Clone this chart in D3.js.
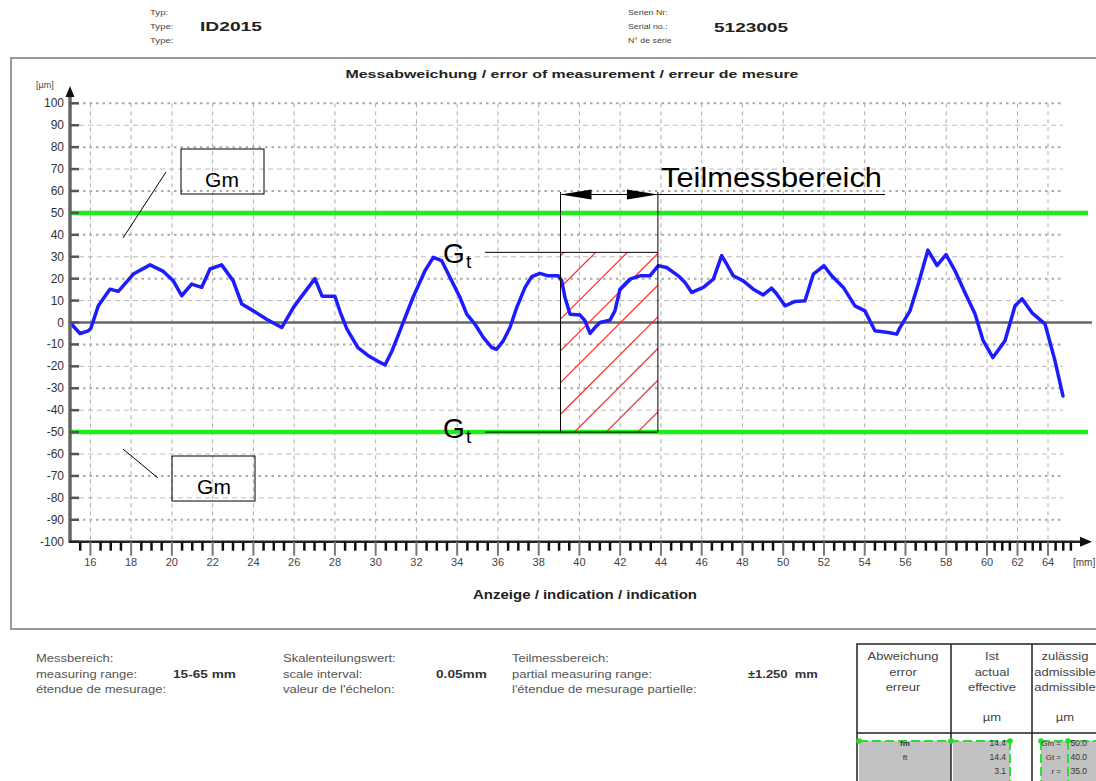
<!DOCTYPE html>
<html>
<head>
<meta charset="utf-8">
<script src="https://cdn.jsdelivr.net/npm/d3@7"></script>
<style>
body { margin: 0; background: #fff; }
svg { display: block; font-family: "Liberation Sans", Arial, sans-serif; }
</style>
</head>
<body>
<svg id="chart" width="1096" height="781"></svg>
<script>
const positionMm = [15.00, 15.49, 15.90, 16.02, 16.39, 16.96, 17.37, 18.11, 18.93, 19.58, 20.07, 20.48, 20.97, 21.46,
  21.87, 22.44, 23.01, 23.43, 24.00, 24.65, 25.39, 25.96, 26.29, 27.02, 27.37, 28.00, 28.25, 28.59, 29.13, 29.62,
  30.07, 30.46, 30.80, 31.19, 31.83, 32.42, 32.83, 33.24, 33.65, 34.14, 34.47, 34.87, 35.28, 35.69, 35.94, 36.26,
  36.59, 36.92, 37.33, 37.66, 38.06, 38.47, 38.96, 39.13, 39.29, 39.54, 40.03, 40.27, 40.52, 40.76, 41.01, 41.50,
  41.74, 41.99, 42.48, 42.97, 43.46, 43.87, 44.28, 44.85, 45.18, 45.51, 46.08, 46.57, 46.98, 47.22, 47.55, 48.04,
  48.53, 49.02, 49.43, 49.68, 50.09, 50.58, 51.07, 51.48, 52.00, 52.38, 52.95, 53.52, 54.01, 54.50, 55.16, 55.57,
  55.73, 56.22, 56.61, 57.10, 57.55, 57.99, 58.43, 58.92, 59.41, 59.80, 60.39, 61.18, 61.84, 62.30, 62.95, 63.80,
  64.46, 64.98];
const deviationUm = [0, -5, -3.8, -2.7, 7.6, 15.2, 14.2, 22.1, 26.3, 23.3, 19.0, 12.2, 17.5, 16.0,
  24.4, 26.3, 19, 8.4, 5.3, 1.5, -2.3, 6.8, 11, 20, 12, 12, 5, -3, -11.5, -15,
  -17.5, -19.4, -13, -3.8, 11.4, 23.6, 29.7, 28.2, 20.5, 11.4, 3.8, -0.7, -6.8, -11.4, -12.2, -8.4,
  -2.3, 6.8, 16, 20.9, 22.4, 21.3, 21.3, 19, 11.4, 3.8, 3.4, 0.8, -5, -2.3, 0, 1.1,
  5.3, 15.2, 19.8, 21.3, 21.3, 25.9, 25.1, 21.3, 18.3, 13.7, 16, 19.8, 30.5, 26.7, 21.3, 19,
  15.2, 12.6, 15.7, 13, 7.6, 9.6, 9.9, 22.1, 25.9, 21.3, 16, 7.6, 5.3, -3.8, -4.6, -5.3,
  -2.3, 5.3, 17, 33, 26, 31, 23.6, 13.6, 4, -8, -16, -8.3, 7.6, 10.8, 4.4, -0.6,
  -17.5, -33.5];

const gmLimit = 50;            // green limit lines +-Gm
const gtBand = [-50, 32];      // hatched partial range band as drawn
const partialRange = [39.07, 43.85];
const yTicks = d3.range(-100, 101, 10);
const xLabels = d3.range(16, 65, 2);
const xMinor = d3.range(15.5, 65.6, 0.5);

const tableActual = ['14.4', '14.4', '3.1'];
const tableNames = ['fm', 'ft'];
const tableAdmissible = [['Gm =', '50.0'], ['Gt =', '40.0'], ['r =', '35.0']];

const svg = d3.select('#chart');

// scan is squeezed at the right end, so the scale is piecewise
const x = d3.scaleLinear().domain([15, 60, 64]).range([70, 987, 1048]);
const y = d3.scaleLinear().domain([-100, 100]).range([541.7, 103.3]);

function label(g, px, py, str, o = {}) {
  const t = g.append('text')
    .attr('x', px).attr('y', py)
    .attr('font-size', o.size || 10)
    .attr('fill', o.fill || '#555')
    .attr('font-weight', o.bold ? 'bold' : null)
    .attr('text-anchor', o.anchor || 'start')
    .text(str);
  if (o.width || o.sx) {
    const w = o.width || t.node().getComputedTextLength() * o.sx;
    t.attr('textLength', w).attr('lengthAdjust', 'spacingAndGlyphs');
  }
  return t;
}

// header
const head = svg.append('g');
['Typ:', 'Type:', 'Type:'].forEach((s, i) => label(head, 150, 15 + i * 14, s, { size: 8, fill: '#444', sx: 1.2 }));
label(head, 200, 31, 'ID2015', { size: 13, bold: true, fill: '#222', width: 62 });
['Serien Nr:', 'Serial no.:', 'N° de série'].forEach((s, i) => label(head, 628, 15 + i * 14, s, { size: 8, fill: '#444', sx: 1.1 }));
label(head, 714, 32, '5123005', { size: 13, bold: true, fill: '#222', width: 74 });

// frame
svg.append('rect')
  .attr('x', 11).attr('y', 58).attr('width', 1100).attr('height', 571)
  .attr('fill', 'none').attr('stroke', '#999').attr('stroke-width', 2);

label(svg, 572, 78, 'Messabweichung / error of measurement / erreur de mesure',
  { size: 11, bold: true, fill: '#222', anchor: 'middle', width: 453 });

// grid
const grid = svg.append('g');
yTicks.filter(v => v > -100).forEach(v => {
  const dotted = v > 0 ? v % 20 === 0 : v % 20 !== 0;
  grid.append('line')
    .attr('x1', 70).attr('x2', 1063).attr('y1', y(v)).attr('y2', y(v))
    .attr('stroke', dotted ? '#aaa' : '#bbb')
    .attr('stroke-width', dotted ? 2 : 1)
    .attr('stroke-dasharray', dotted ? '2.5,4' : '5,4');
});
xLabels.forEach(v => {
  grid.append('line')
    .attr('x1', x(v)).attr('x2', x(v)).attr('y1', y(100)).attr('y2', y(-100))
    .attr('stroke', '#aaa').attr('stroke-width', 1).attr('stroke-dasharray', '4,4');
});

// zero line and Gm limits
svg.append('line')
  .attr('x1', 70).attr('x2', 1092).attr('y1', y(0)).attr('y2', y(0))
  .attr('stroke', '#666').attr('stroke-width', 2.5);
[gmLimit, -gmLimit].forEach(v => {
  svg.append('line')
    .attr('x1', 70).attr('x2', 1088).attr('y1', y(v)).attr('y2', y(v))
    .attr('stroke', '#1eee1e').attr('stroke-width', 4.5);
});

// hatched partial range
const bx0 = x(partialRange[0]);
const bx1 = x(partialRange[1]);
const byTop = y(gtBand[1]);
const byBot = y(gtBand[0]);
svg.append('clipPath').attr('id', 'hatchClip')
  .append('rect').attr('x', bx0).attr('y', byTop).attr('width', bx1 - bx0).attr('height', byBot - byTop);
const hatch = svg.append('g').attr('clip-path', 'url(#hatchClip)');
d3.range(byTop + 3.4, byBot + (bx1 - bx0) + 5, 31.7).forEach(c => {
  hatch.append('line')
    .attr('x1', bx0).attr('y1', c).attr('x2', bx0 + 300).attr('y2', c - 300)
    .style('stroke', '#ff2a2a').style('stroke-width', 1.2);
});

// measured curve
const line = d3.line().x(d => x(d[0])).y(d => y(d[1]));
svg.append('path')
  .datum(positionMm.map((p, i) => [p, deviationUm[i]]))
  .attr('d', line)
  .attr('fill', 'none').attr('stroke', '#1c1cff').attr('stroke-width', 3.5)
  .attr('stroke-linejoin', 'round').attr('stroke-linecap', 'round');

// annotation overlay
const ann = svg.append('g').attr('stroke', '#000').attr('stroke-width', 1).attr('fill', 'none');
ann.append('line').attr('x1', bx0).attr('x2', bx0).attr('y1', 192).attr('y2', byBot);
ann.append('line').attr('x1', bx1).attr('x2', bx1).attr('y1', 192).attr('y2', byBot);
ann.append('line').attr('x1', 485).attr('x2', bx1).attr('y1', byTop).attr('y2', byTop);
ann.append('line').attr('x1', 485).attr('x2', bx1).attr('y1', byBot).attr('y2', byBot);
ann.append('line').attr('x1', bx0).attr('x2', 885).attr('y1', 194.5).attr('y2', 194.5);
svg.append('path')
  .attr('d', `M${bx0},194.5 L${bx0 + 31},189.5 L${bx0 + 31},199.5 Z M${bx1},194.5 L${bx1 - 31},189.5 L${bx1 - 31},199.5 Z`)
  .attr('fill', '#000');
label(svg, 661, 187, 'Teilmessbereich', { size: 28, fill: '#000', width: 221 });
[[263, 268], [438, 443]].forEach(([gy, ty]) => {
  label(svg, 443, gy, 'G', { size: 28, fill: '#000' });
  label(svg, 466, ty, 't', { size: 19, fill: '#000' });
});
[[181, 149, 222, 187, [123, 238, 166, 172]], [172, 456, 214, 494, [123, 449, 158, 478]]].forEach(([bx, by, tx, ty, l]) => {
  ann.append('rect').attr('x', bx).attr('y', by).attr('width', 83).attr('height', 45);
  ann.append('line').attr('x1', l[0]).attr('y1', l[1]).attr('x2', l[2]).attr('y2', l[3]);
  label(svg, tx, ty, 'Gm', { size: 21, fill: '#000', anchor: 'middle' });
});

// y axis
const yAxis = svg.append('g');
yAxis.append('line').attr('x1', 70).attr('x2', 70).attr('y1', y(-100) + 1).attr('y2', 95)
  .attr('stroke', '#666').attr('stroke-width', 3.5);
yAxis.append('path').attr('d', 'M70,86 L65.5,97 L74.5,97 Z').attr('fill', '#111');
yTicks.forEach(v => {
  yAxis.append('line').attr('x1', 70).attr('x2', 79).attr('y1', y(v)).attr('y2', y(v))
    .attr('stroke', '#555').attr('stroke-width', 2.5);
  label(yAxis, 64, y(v) + 4, String(v), { size: 12, fill: '#333', anchor: 'end' });
});
label(yAxis, 36, 88, '[µm]', { size: 9, fill: '#444' });

// x axis
const xAxis = svg.append('g');
xAxis.append('line').attr('x1', 69).attr('x2', 1082).attr('y1', y(-100)).attr('y2', y(-100))
  .attr('stroke', '#222').attr('stroke-width', 2.5);
xAxis.append('path').attr('d', `M1092,${y(-100)} L1080,${y(-100) - 5} L1080,${y(-100) + 5} Z`).attr('fill', '#111');
xMinor.forEach(v => {
  const major = v % 2 === 0;
  xAxis.append('line')
    .attr('x1', x(v)).attr('x2', x(v))
    .attr('y1', y(-100)).attr('y2', y(-100) + (major ? 14 : 9))
    .attr('stroke', major ? '#777' : '#111').attr('stroke-width', major ? 2 : 2.5);
});
xLabels.forEach(v => label(xAxis, x(v), 566, String(v), { size: 11, fill: '#444', anchor: 'middle' }));
label(xAxis, 1073, 566, '[mm]', { size: 10, fill: '#444' });
label(svg, 585, 599, 'Anzeige / indication / indication', { size: 12, bold: true, fill: '#222', anchor: 'middle', width: 224 });

// bottom information
const info = svg.append('g');
const infoCols = [
  [36, ['Messbereich:', 'measuring range:', 'étendue de mesurage:'], 173, '15-65 mm'],
  [283, ['Skalenteilungswert:', 'scale interval:', "valeur de l'échelon:"], 436, '0.05mm'],
  [512, ['Teilmessbereich:', 'partial measuring range:', "l'étendue de mesurage partielle:"], 748, '±1.250  mm']
];
infoCols.forEach(([cx, lines, vx, val]) => {
  lines.forEach((s, i) => label(info, cx, 662 + i * 15.5, s, { size: 10, fill: '#555', sx: 1.3 }));
  label(info, vx, 678, val, { size: 10.5, bold: true, fill: '#333', sx: 1.3 }).attr('xml:space', 'preserve');
});

// result table
const tab = svg.append('g');
tab.append('rect').attr('x', 859).attr('y', 741).attr('width', 92).attr('height', 50).attr('fill', '#c2c2c2');
tab.append('rect').attr('x', 953).attr('y', 741).attr('width', 57).attr('height', 50).attr('fill', '#c2c2c2');
tab.append('rect').attr('x', 1041).attr('y', 741).attr('width', 60).attr('height', 50).attr('fill', '#c2c2c2');
tab.append('rect').attr('x', 857).attr('y', 644).attr('width', 260).attr('height', 160)
  .attr('fill', 'none').attr('stroke', '#222').attr('stroke-width', 1.5);
[951, 1032].forEach(cx => tab.append('line').attr('x1', cx).attr('x2', cx).attr('y1', 644).attr('y2', 781)
  .attr('stroke', '#222').attr('stroke-width', 1.5));
tab.append('line').attr('x1', 857).attr('x2', 1096).attr('y1', 733).attr('y2', 733).attr('stroke', '#222').attr('stroke-width', 1.5);
const greenDash = { stroke: '#2ee02e', 'stroke-width': 2, 'stroke-dasharray': '9,4' };
[[859, 741, 1010, 741], [1041, 741, 1096, 741], [1010, 741, 1010, 781], [1041, 741, 1041, 781], [1068, 741, 1068, 781]]
  .forEach(([a, b, c, d]) => {
    const l = tab.append('line').attr('x1', a).attr('y1', b).attr('x2', c).attr('y2', d);
    Object.entries(greenDash).forEach(([k, v]) => l.attr(k, v));
  });
[859, 951, 1010, 1041, 1068].forEach(cx => tab.append('circle').attr('cx', cx).attr('cy', 741).attr('r', 2.8).attr('fill', '#22dd22'));

const headCols = [
  [903, ['Abweichung', 'error', 'erreur', '']],
  [992, ['Ist', 'actual', 'effective', 'µm']],
  [1065, ['zulässig', 'admissible', 'admissible', 'µm']]
];
headCols.forEach(([cx, lines]) => {
  lines.forEach((s, i) => {
    if (!s) return;
    const yy = i < 3 ? 660 + i * 15.5 : 721;
    label(tab, cx, yy, s, { size: 10, fill: '#444', anchor: 'middle', sx: 1.3 });
  });
});
tableNames.forEach((s, i) => label(tab, 905, 746 + i * 14, s, { size: 8, bold: i === 0, fill: '#333', anchor: 'middle' }));
tableActual.forEach((s, i) => label(tab, 1006, 746 + i * 14, s, { size: 8.5, fill: '#333', anchor: 'end' }));
tableAdmissible.forEach(([k, v], i) => {
  label(tab, 1061, 746 + i * 14, k, { size: 8, fill: '#333', anchor: 'end' });
  label(tab, 1087, 746 + i * 14, v, { size: 8.5, fill: '#333', anchor: 'end' });
});
</script>
</body>
</html>
